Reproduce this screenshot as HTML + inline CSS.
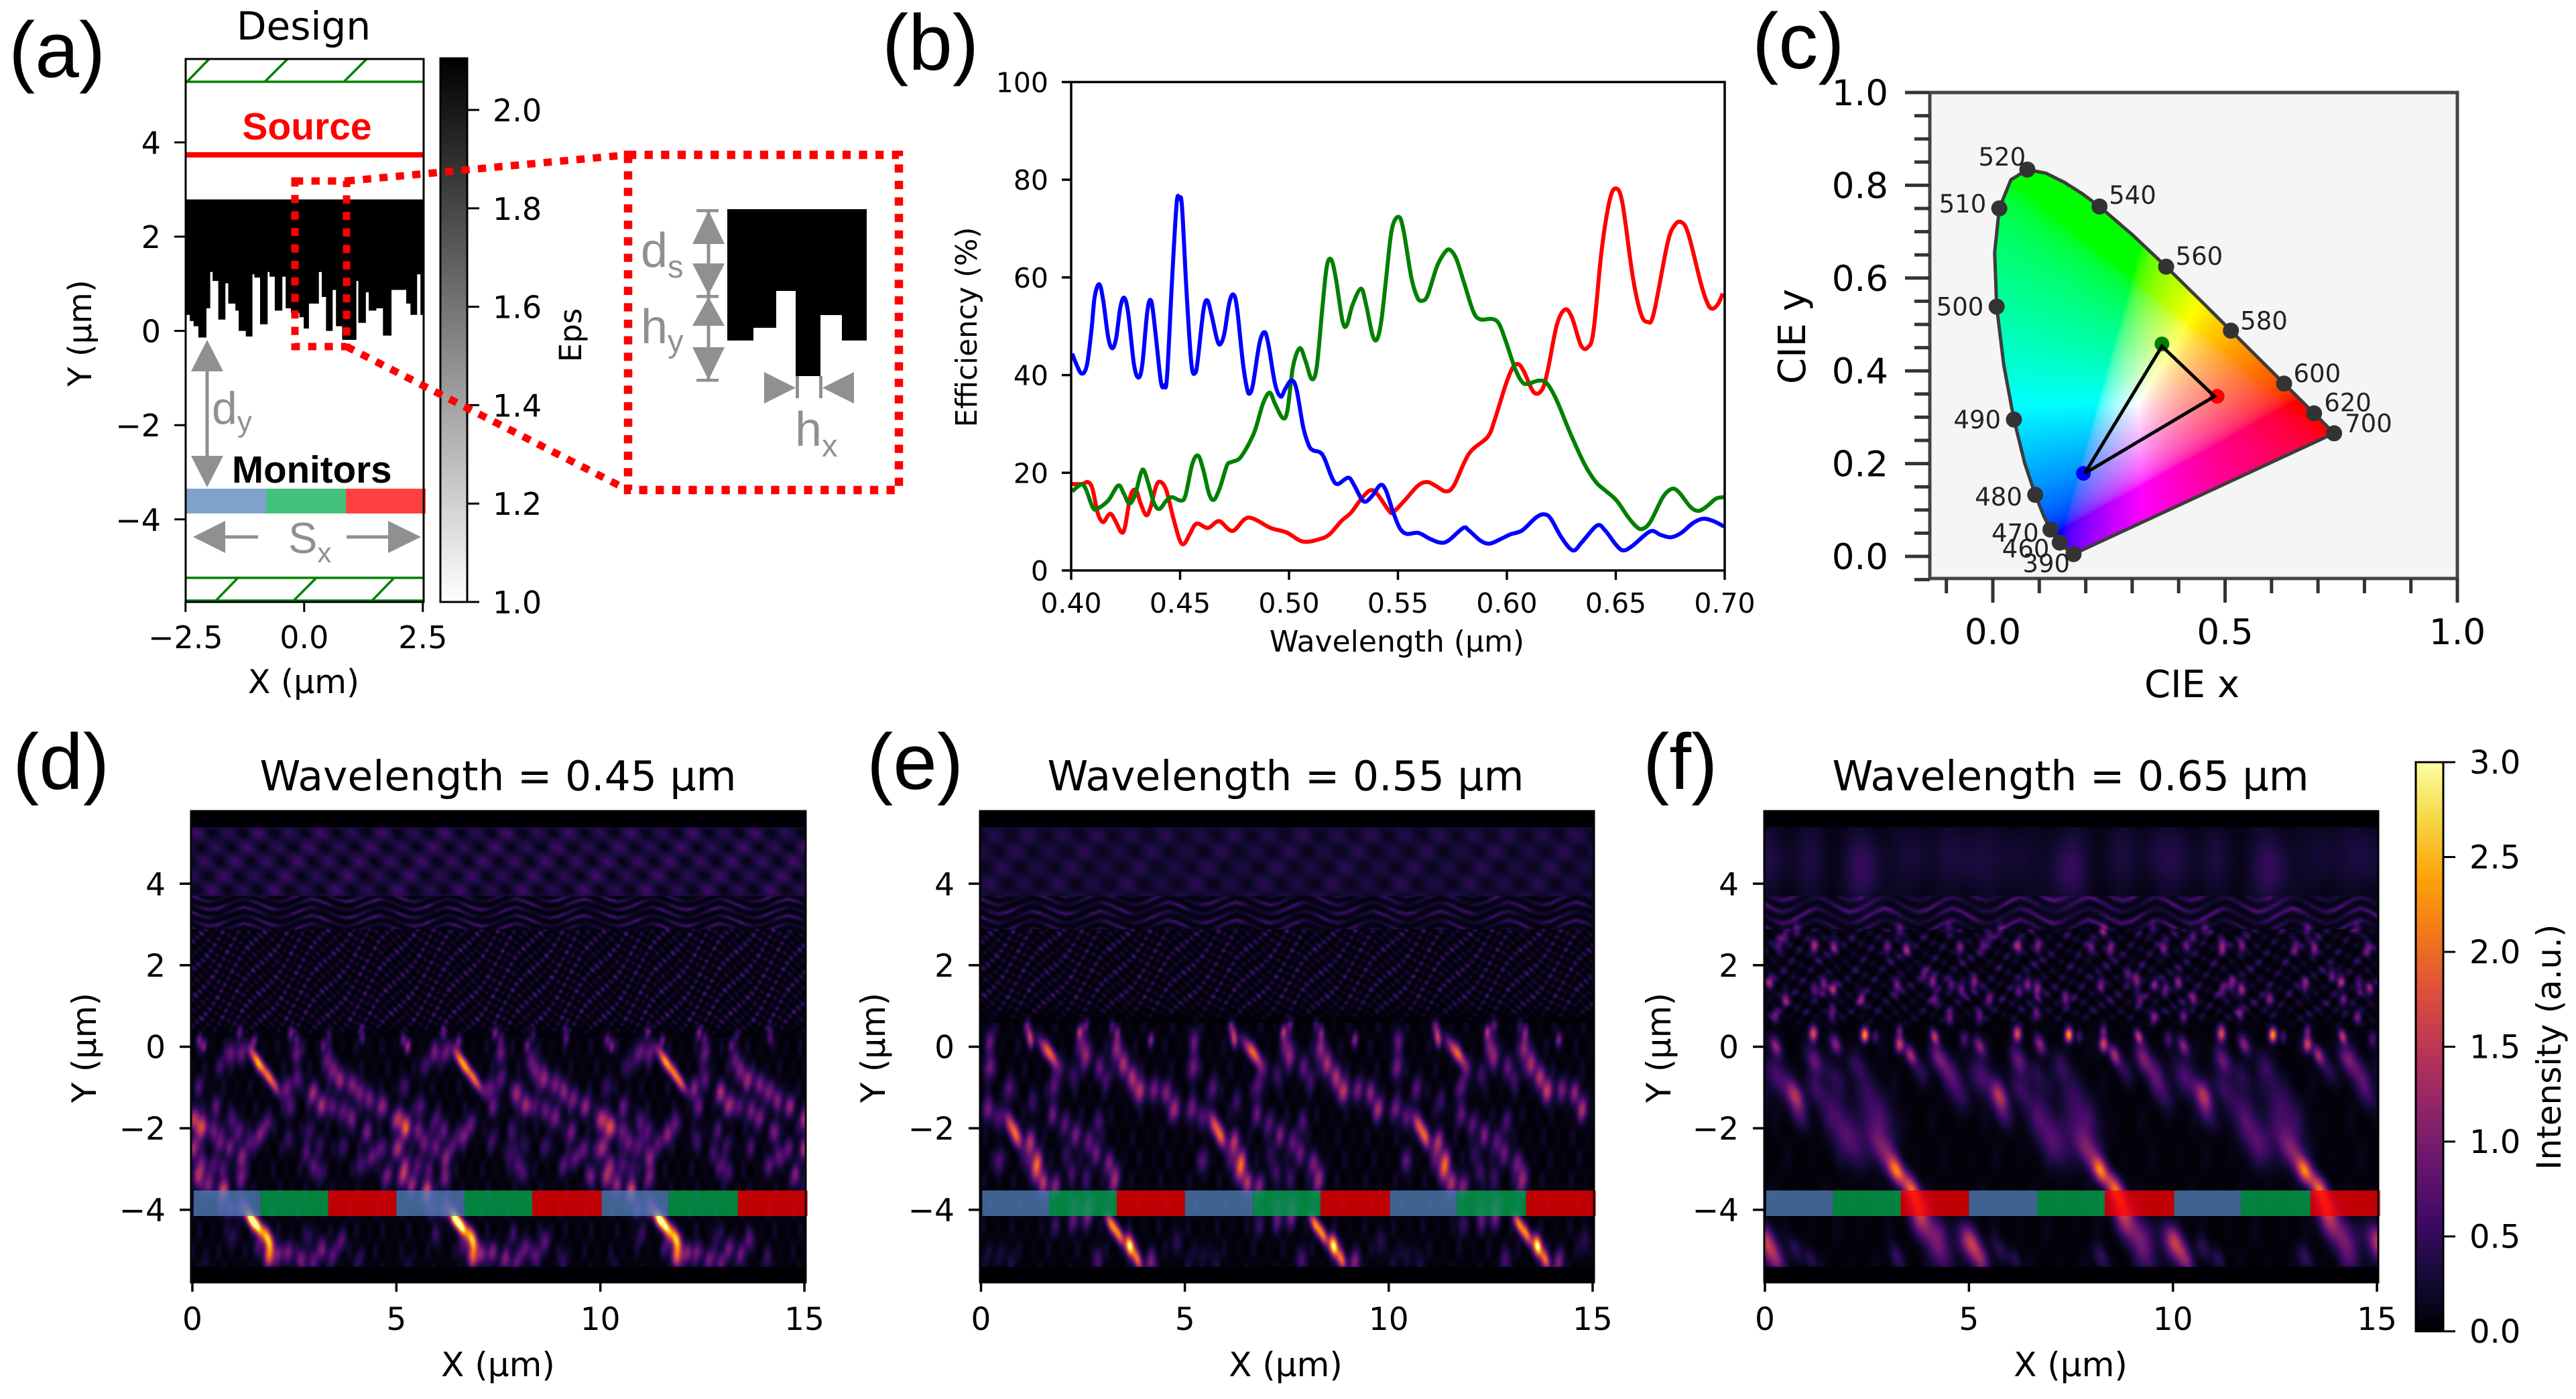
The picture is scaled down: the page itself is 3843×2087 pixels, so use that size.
<!DOCTYPE html>
<html lang="en">
<head>
<meta charset="utf-8">
<title>Metasurface color router figure</title>
<style>
html,body{margin:0;padding:0;background:#fff;}
#figure{position:relative;width:3843px;height:2087px;overflow:hidden;background:#fff;}
canvas{position:absolute;display:block;}
#overlay{position:absolute;left:0;top:0;}
text{font-family:"DejaVu Sans",sans-serif;fill:#000;}
.lib{font-family:"Liberation Sans",sans-serif;}
.anno{font-family:"Liberation Sans",sans-serif;fill:#909090;}
</style>
</head>
<body>
<div id="figure">
<canvas id="cie-canvas" style="left:2879px;top:138px" width="787" height="725"></canvas>
<canvas id="heat-d" style="left:285px;top:1210px" width="917" height="703"></canvas>
<canvas id="heat-e" style="left:1462px;top:1210px" width="916" height="703"></canvas>
<canvas id="heat-f" style="left:2632px;top:1210px" width="916" height="703"></canvas>

<svg id="overlay" width="3843" height="2087" viewBox="0 0 3843 2087" xmlns="http://www.w3.org/2000/svg">
<defs>
<linearGradient id="gray-grad" x1="0" y1="0" x2="0" y2="1"><stop offset="0" stop-color="#000"/><stop offset="1" stop-color="#fff"/></linearGradient>
<linearGradient id="inferno-grad" x1="0" y1="1" x2="0" y2="0"></linearGradient>
<clipPath id="clip-b"><rect x="1598" y="122" width="975" height="729"/></clipPath>
</defs>

<g class="lib" font-size="118">
<text class="lib" x="13" y="115">(a)</text>
<text class="lib" x="1316" y="104">(b)</text>
<text class="lib" x="2614" y="102">(c)</text>
<text class="lib" x="19" y="1177">(d)</text>
<text class="lib" x="1293" y="1177">(e)</text>
<text class="lib" x="2451" y="1177">(f)</text>
</g>

<!-- Panel a -->
<g id="panel-a">
<text x="453" y="59" font-size="58" text-anchor="middle">Design</text>
<g stroke="#008000" stroke-width="3.5" fill="none">
<path d="M277 122H632M279 122L312 88M395 122L429 88M513 122L547 88"/>
<path d="M277 862H632M277 896H632M322 896L355 862M438 896L472 862M555 896L588 862"/>
</g>
<rect x="277" y="227" width="355" height="8" fill="#f00"/>
<text class="lib" x="458" y="208" font-size="57" font-weight="bold" text-anchor="middle" style="fill:#f00">Source</text>
<g id="panel-a-structure"></g>
<text class="lib" x="346" y="720" font-size="56.5" font-weight="bold">Monitors</text>
<g>
<rect x="278" y="729" width="119" height="37" fill="#5483bc" fill-opacity=".75"/>
<rect x="397" y="729" width="119" height="37" fill="#04ad50" fill-opacity=".75"/>
<rect x="516" y="729" width="119" height="37" fill="#ff0000" fill-opacity=".75"/>
</g>
<rect x="277" y="88" width="355" height="810" fill="none" stroke="#000" stroke-width="3"/>
<g id="panel-a-ticks"></g>
<text x="453" y="1034" font-size="49" text-anchor="middle">X (μm)</text>
<text transform="translate(136 497) rotate(-90)" font-size="48" text-anchor="middle">Y (μm)</text>
<rect x="657" y="87" width="40" height="811" fill="url(#gray-grad)" stroke="#000" stroke-width="3"/>
<g id="eps-ticks"></g>
<text transform="translate(867 500) rotate(-90)" font-size="45" text-anchor="middle">Eps</text>

<g fill="#909090">
<rect x="306.5" y="540" width="5" height="150"/>
<path d="M309 507L333 554H285Z"/>
<path d="M309 727L333 680H285Z"/>
<text class="anno" x="316" y="632" font-size="68">d<tspan font-size="44" dy="12">y</tspan></text>
</g>
<g fill="#909090">
<path d="M288 801L336 777V825Z"/>
<rect x="330" y="798.5" width="55" height="5"/>
<path d="M628 801L579 777V825Z"/>
<rect x="517" y="798.5" width="65" height="5"/>
<text class="anno" x="430" y="825" font-size="65">S<tspan font-size="42" dy="14">x</tspan></text>
</g>

<g fill="none" stroke="#f00" stroke-dasharray="12.3 12.3">
<rect x="440" y="270" width="77" height="247" stroke-width="11"/>
<path d="M517 270L937 231" stroke-width="11"/>
<path d="M517 517L937 731" stroke-width="11"/>
<rect x="937" y="231" width="404" height="500" stroke-width="12.5"/>
</g>
<path d="M1085 312H1293V508H1256V470H1224V561H1187V434H1158V489H1124V508H1085Z" fill="#000"/>
<g fill="#909090">
<rect x="1039" y="312" width="33" height="4.5"/>
<rect x="1039" y="440" width="33" height="4.5"/>
<rect x="1039" y="565" width="33" height="4.5"/>
<rect x="1054.5" y="314" width="5" height="252"/>
<path d="M1057 314L1081 364H1033Z"/>
<path d="M1057 440L1081 393H1033Z"/>
<path d="M1057 443L1081 486H1033Z"/>
<path d="M1057 567L1081 518H1033Z"/>
<text class="anno" x="956" y="398" font-size="72">d<tspan font-size="47" dy="16">s</tspan></text>
<text class="anno" x="956" y="512" font-size="72">h<tspan font-size="47" dy="13">y</tspan></text>
<path d="M1187 578.5L1140 555V602Z"/>
<path d="M1227 578.5L1274 555V602Z"/>
<rect x="1187" y="561" width="5" height="33"/>
<rect x="1222" y="561" width="5" height="33"/>
<text class="anno" x="1186" y="665" font-size="72">h<tspan font-size="47" dy="16">x</tspan></text>
</g>
</g>

<!-- Panel b -->
<g id="panel-b">
<g id="panel-b-lines" clip-path="url(#clip-b)"></g>
<rect x="1598" y="122.4" width="975" height="728.6" fill="none" stroke="#000" stroke-width="3.5"/>
<g id="panel-b-ticks"></g>
<text x="2084" y="972" font-size="44" text-anchor="middle">Wavelength (μm)</text>
<text transform="translate(1457 488) rotate(-90)" font-size="43.5" text-anchor="middle">Efficiency (%)</text>
</g>

<!-- Panel c -->
<g id="panel-c">
<g id="panel-c-marks"></g>
<rect x="2879" y="138" width="787" height="725" fill="none" stroke="#444" stroke-width="5"/>
<g id="panel-c-ticks"></g>
<text x="3270" y="1040" font-size="56" text-anchor="middle">CIE x</text>
<text transform="translate(2693 502) rotate(-90)" font-size="56" text-anchor="middle">CIE y</text>
</g>

<!-- Panels d, e, f -->
<g id="panel-heat">
<text x="743" y="1179" font-size="61.5" text-anchor="middle">Wavelength = 0.45 μm</text>
<text x="1918" y="1179" font-size="61.5" text-anchor="middle">Wavelength = 0.55 μm</text>
<text x="3089" y="1179" font-size="61.5" text-anchor="middle">Wavelength = 0.65 μm</text>
<text x="743" y="2053" font-size="50" text-anchor="middle">X (μm)</text>
<text x="1918" y="2053" font-size="50" text-anchor="middle">X (μm)</text>
<text x="3089" y="2053" font-size="50" text-anchor="middle">X (μm)</text>
<text transform="translate(143 1563) rotate(-90)" font-size="49.5" text-anchor="middle">Y (μm)</text>
<text transform="translate(1320 1563) rotate(-90)" font-size="49.5" text-anchor="middle">Y (μm)</text>
<text transform="translate(2492 1563) rotate(-90)" font-size="49.5" text-anchor="middle">Y (μm)</text>
<rect x="3604" y="1137" width="41" height="849" fill="url(#inferno-grad)" stroke="#000" stroke-width="3"/>
<text transform="translate(3820 1562) rotate(-90)" font-size="50" text-anchor="middle">Intensity (a.u.)</text>
<g id="heat-marks"></g>
</g>
</svg>
</div>

<script>
/* ---------- Panel (a) data ---------- */
const toothEdgesUm = [-2.50,-2.41,-2.33,-2.23,-2.06,-1.98,-1.93,-1.81,-1.66,-1.60,-1.45,-1.38,-1.23,-1.09,-1.05,-0.93,-0.77,-0.73,-0.62,-0.46,-0.39,-0.28,-0.10,-0.01,0.10,0.31,0.37,0.46,0.60,0.67,0.80,1.10,1.14,1.30,1.36,1.52,1.66,1.84,2.15,2.24,2.38,2.45,2.50];
const toothBottomsUm = [0.34,0.21,0.10,-0.14,0.48,1.25,1.06,0.24,1.01,0.58,0.43,0.00,-0.12,1.20,1.13,0.14,1.25,1.15,0.43,1.15,0.48,0.38,0.29,0.05,0.58,1.25,0.72,0.00,0.87,0.10,-0.19,1.06,0.17,0.82,0.43,0.48,-0.10,0.87,0.58,0.34,1.20,0.34];
const structureTopUm = 2.79;
const designXTicks = [-2.5,0,2.5];
const designXTickLabels = ['−2.5','0.0','2.5'];
const designYTicks = [4,2,0,-2,-4];
const designYTickLabels = ['4','2','0','−2','−4'];
const epsTicks = [2.0,1.8,1.6,1.4,1.2,1.0];
const epsTickLabels = ['2.0','1.8','1.6','1.4','1.2','1.0'];

/* ---------- Panel (b) data ---------- */
const redWavelengths = [0.4005,0.4051,0.4077,0.4098,0.4123,0.4147,0.4170,0.4185,0.4206,0.4231,0.4247,0.4273,0.4298,0.4319,0.4345,0.4365,0.4391,0.4412,0.4437,0.4468,0.4499,0.4520,0.4545,0.4576,0.4628,0.4679,0.4741,0.4813,0.4916,0.4988,0.5065,0.5147,0.5188,0.5240,0.5286,0.5332,0.5373,0.5404,0.5456,0.5477,0.5530,0.5593,0.5636,0.5678,0.5720,0.5757,0.5826,0.5911,0.5943,0.5996,0.6028,0.6054,0.6080,0.6123,0.6160,0.6186,0.6229,0.6266,0.6298,0.6340,0.6372,0.6398,0.6435,0.6472,0.6501,0.6531,0.6578,0.6615,0.6645,0.6674,0.6737,0.6769,0.6801,0.6833,0.6891,0.6922,0.6944,0.6970,0.6991];
const redEfficiency = [17.7,17.7,18.1,16.7,11.6,9.9,11.3,11.5,9.9,7.8,8.9,15.4,16.4,13.7,11.3,13.0,17.4,18.1,16.4,10.9,6.1,5.5,7.5,9.6,8.7,10.1,8.1,10.8,8.7,7.8,5.9,6.5,7.5,10.1,11.9,14.7,16.4,15.7,12.4,11.9,14.3,17.4,18.1,17.2,16.2,17.4,23.9,27.3,30.7,38.2,41.6,42.2,40.6,36.5,36.9,40.6,50.2,53.4,51.9,46.1,45.7,49.1,65.5,75.8,78.2,75.1,60.1,52.6,50.9,52.6,66.9,70.6,71.3,68.9,58.7,54.6,53.6,54.6,56.7];
const greenWavelengths = [0.4005,0.4046,0.4067,0.4098,0.4118,0.4170,0.4216,0.4242,0.4267,0.4293,0.4319,0.4334,0.4355,0.4381,0.4406,0.4437,0.4463,0.4504,0.4525,0.4556,0.4583,0.4607,0.4633,0.4656,0.4684,0.4715,0.4736,0.4772,0.4808,0.4844,0.4880,0.4911,0.4936,0.4972,0.4993,0.5018,0.5049,0.5075,0.5104,0.5127,0.5152,0.5173,0.5193,0.5214,0.5245,0.5265,0.5291,0.5330,0.5353,0.5384,0.5405,0.5424,0.5445,0.5471,0.5501,0.5524,0.5561,0.5588,0.5609,0.5636,0.5678,0.5710,0.5736,0.5768,0.5805,0.5847,0.5879,0.5932,0.5964,0.5996,0.6038,0.6070,0.6096,0.6149,0.6186,0.6229,0.6292,0.6356,0.6409,0.6451,0.6504,0.6557,0.6594,0.6621,0.6658,0.6716,0.6758,0.6790,0.6843,0.6880,0.6917,0.6960,0.6997];
const greenEfficiency = [16.2,17.6,16.7,13.0,12.6,14.3,17.4,15.7,13.7,15.4,19.8,20.5,17.7,13.7,12.6,14.3,15.0,14.3,15.4,21.8,23.5,20.5,15.7,14.5,17.1,21.5,22.2,22.9,25.3,28.7,34.1,36.4,34.1,31.2,32.8,41.6,45.5,43.0,39.2,41.6,53.2,62.1,63.7,60.1,51.2,50.2,54.3,57.7,54.6,48.1,47.4,51.2,59.4,69.6,72.4,70.0,60.1,56.0,55.2,56.3,62.1,64.8,65.7,63.8,58.7,52.9,51.4,51.5,50.5,46.8,41.3,38.6,38.2,38.9,38.2,34.8,28.0,21.8,18.1,16.4,14.3,10.9,9.0,8.5,9.9,15.0,16.7,16.0,13.0,12.2,13.1,14.7,15.0];
const blueWavelengths = [0.4005,0.4026,0.4049,0.4072,0.4093,0.4108,0.4129,0.4147,0.4170,0.4188,0.4206,0.4226,0.4244,0.4262,0.4288,0.4309,0.4327,0.4350,0.4368,0.4386,0.4412,0.4427,0.4440,0.4463,0.4484,0.4497,0.4509,0.4530,0.4552,0.4569,0.4581,0.4607,0.4625,0.4645,0.4669,0.4684,0.4703,0.4725,0.4744,0.4761,0.4787,0.4806,0.4819,0.4835,0.4864,0.4887,0.4905,0.4936,0.4962,0.4983,0.5011,0.5034,0.5065,0.5091,0.5111,0.5142,0.5163,0.5199,0.5224,0.5271,0.5296,0.5332,0.5353,0.5384,0.5420,0.5445,0.5477,0.5508,0.5540,0.5593,0.5646,0.5694,0.5731,0.5800,0.5826,0.5879,0.5922,0.5975,0.6017,0.6070,0.6133,0.6171,0.6202,0.6250,0.6303,0.6345,0.6414,0.6451,0.6504,0.6536,0.6578,0.6658,0.6705,0.6753,0.6801,0.6854,0.6901,0.6949,0.6997];
const blueEfficiency = [44.4,42.0,40.3,42.0,49.1,56.0,58.6,55.3,47.8,45.5,47.4,53.9,55.8,52.6,42.3,39.5,42.3,53.2,55.1,49.1,38.6,37.9,39.6,59.4,75.1,76.1,74.4,56.7,42.3,40.4,43.0,53.2,55.3,52.2,47.4,46.3,48.5,54.6,56.5,53.9,43.0,37.5,36.2,38.2,46.4,48.8,46.4,38.2,35.6,37.2,38.9,37.2,29.4,25.6,24.6,24.2,22.9,18.8,17.7,19.0,17.7,14.7,14.1,15.4,17.5,16.4,12.1,8.7,7.5,7.7,6.5,5.7,6.1,8.7,8.2,6.1,5.5,6.5,7.4,8.2,10.8,11.5,10.6,6.8,4.1,5.8,9.2,8.2,5.1,4.1,5.1,8.0,7.3,6.8,7.7,9.7,10.6,10.1,9.0];
const effXTicks = [0.40,0.45,0.50,0.55,0.60,0.65,0.70];
const effXTickLabels = ['0.40','0.45','0.50','0.55','0.60','0.65','0.70'];
const effYTicks = [0,20,40,60,80,100];
const effYTickLabels = ['0','20','40','60','80','100'];

/* ---------- Panel (c) data ---------- */
const locusX = [0.1738,0.1714,0.1644,0.1566,0.1440,0.1355,0.1241,0.1096,0.0913,0.0687,0.0454,0.0235,0.0082,0.0039,0.0139,0.0389,0.0743,0.1142,0.1547,0.1929,0.2296,0.3016,0.3731,0.4441,0.5125,0.5752,0.6270,0.6658,0.6915,0.7079,0.7190,0.7347];
const locusY = [0.0049,0.0051,0.0109,0.0177,0.0297,0.0399,0.0578,0.0868,0.1327,0.2007,0.2950,0.4127,0.5384,0.6548,0.7502,0.8120,0.8338,0.8262,0.8059,0.7816,0.7543,0.6923,0.6245,0.5547,0.4866,0.4242,0.3725,0.3340,0.3083,0.2920,0.2809,0.2653];
const locusNm = [390,420,440,450,460,465,470,475,480,485,490,495,500,505,510,515,520,525,530,535,540,550,560,570,580,590,600,610,620,630,640,700];
const labelledNm = [390,460,470,480,490,500,510,520,540,560,580,600,620,700];
const labelNudgeDx = [-76,-86,-88,-90,-90,-90,-90,-73,14,14,14,14,15,16];
const labelNudgeDy = [27,22,18,16,13,13,6,-6,-4,-3,-2,-2,-3,-2];
const primaryX = [0.483,0.364,0.195];
const primaryY = [0.345,0.458,0.179];
const primaryColors = ['#ff0000','#008000','#0000ff'];
const cieXMajor = [0,0.5,1];
const cieXMajorLabels = ['0.0','0.5','1.0'];
const cieXMinor = [-0.1,0.1,0.2,0.3,0.4,0.6,0.7,0.8,0.9];
const cieYMajor = [0,0.2,0.4,0.6,0.8,1];
const cieYMajorLabels = ['0.0','0.2','0.4','0.6','0.8','1.0'];
const cieYMinor = [-0.05,0.05,0.1,0.15,0.25,0.3,0.35,0.45,0.5,0.55,0.65,0.7,0.75,0.85,0.9,0.95];

/* ---------- Panels (d)(e)(f) data: intensity peaks in one 5 um period [X um, Y um, intensity, size, skew] ---------- */
const peaksD = [
[1.42,-4.20,2.9,.9,.3],[1.60,-4.41,2.5,.9,.3],[1.82,-4.64,2.0,.9,.2],[1.86,-5.16,1.6,.95,0],[1.89,-4.86,1.2,.9,0],[1.62,-4.86,.6],[2.09,-5.08,.9],[2.35,-5.05,.9],[2.66,-5.21,.9],[2.95,-5.27,.7],[3.42,-5.13,.7],[3.15,-4.94,.8],[3.64,-4.75,.7],[2.85,-4.64,.4],[4.08,-5.21,.4],[.97,-4.64,.4],[.30,-5.30,.2],[1.20,-3.90,.9],[.90,-3.95,.6],[.74,-3.63,.8],
[1.63,-.42,1.9,.9,.4],[1.48,-.18,1.0,.9,.4],[1.85,-.71,1.5,.9,.4],[2.00,-.94,1.0,.9,.4],[2.94,-1.13,1.2],[3.16,-1.43,1.2],[2.29,-1.02,.8],[2.56,-.78,.7],[2.38,-1.46,.7],[3.89,-.91,.9],[3.61,-.80,1.1],[4.10,-1.11,.9],[4.33,-1.29,.9],[3.29,-.31,.7],[3.42,-.59,.8],[2.55,-.15,.8],[4.63,-1.46,1.1],[4.98,-1.79,.9],[.23,-1.95,1.0],[3.89,-1.74,.9],[4.27,-2.09,.9],[3.40,-1.46,.6],[3.67,-1.57,.7],
[.08,-1.74,.7],[.22,-2.01,.7],[.52,-2.06,.8],[.68,-2.34,.8],[.57,-1.46,.7],[.96,-1.79,.6],[1.15,-2.06,.7],[1.64,-2.17,.9],[1.40,-2.37,.6],[1.83,-1.87,.7],[.93,-2.45,.7],[.08,-2.47,.6],[.22,-2.89,.8],[.14,-3.19,1.1],[.38,-3.38,1.0],[.74,-3.49,1.0],[1.20,-2.72,1.0],[1.19,-3.21,.9],[.52,-2.89,.6],[.77,-3.00,.5],[4.38,-2.72,.7],[4.60,-2.50,.7],[4.98,-2.50,.8],[4.76,-3.16,.9],[2.96,-2.91,.6],[3.12,-3.10,.5],[2.77,-2.61,.5],[2.35,-2.28,.5],[2.85,-2.06,.5],[3.12,-2.39,.4],[3.67,-2.45,.5],[4.11,-2.89,.6],[.16,-.97,.5],[.68,-.48,.5],[1.20,-.15,.8],[.93,-.15,.8],[.27,.02,1.0,.6],[.16,.18,.8,.6],[1.51,.15,.8,.6],[1.15,.36,.8,.6],[2.41,.34,.9,.6],[2.55,.21,.5,.6],[3.20,.04,.7,.6],[3.34,.29,.5,.6],[4.16,.21,.6,.6],[4.13,.43,.5,.6]
];
const peaksE = [
[3.64,-4.88,3.0,.85,.1],[3.83,-5.21,1.9,.85,.2],[3.18,-4.34,2.0,.85,.3],[3.38,-4.61,1.9,.85,.3],[4.16,-5.27,1.0],[2.85,-5.21,.6],[4.79,-4.78,.4],[2.27,-4.25,.6],[1.81,-4.36,.5],[2.60,-4.20,.7],[.44,-5.13,.25],[.11,-5.21,.2],[.74,-5.24,.25],
[.71,-1.90,1.4,1,.2],[.88,-2.20,1.5,1,.2],[1.20,-2.34,1.3],[1.38,-2.78,1.2],[1.34,-3.05,1.2],[1.52,-3.35,1.2],[1.81,-3.43,1.0],[2.33,-2.15,.8],[2.63,-2.34,.7],[2.82,-2.61,.8],[3.12,-2.86,.8],[3.29,-3.16,.8],[3.23,-3.41,.6],[2.57,-3.21,.5],[2.22,-3.05,.5],[.44,-2.80,.7],[2.05,-1.90,.7],[1.75,-1.65,.7],[2.88,-1.85,.6],
[1.72,-.20,1.5,1,.4],[1.53,-.01,.9,1,.4],[1.22,.13,1.0,.6],[1.18,.30,1.1,.6],[1.12,.51,.7,.6],[2.41,.37,1.2,.6],[2.57,-.23,1.0],[2.47,.07,.7],[3.31,-.04,1.1],[3.48,-.42,1.3],[3.70,-.75,1.3],[3.89,-1.08,1.4],[4.24,-1.05,.9],[4.55,-1.13,.9],[4.74,-1.52,1.2],[.16,-1.52,.9],[.20,-.50,.9],[.22,.15,.7],[.68,-1.02,.7],[1.78,-.97,.7],[2.90,-.48,.7],[2.27,-.70,.5],[1.26,-1.35,.5],[4.16,.18,1.0,.6],[3.34,.34,.8,.6],[3.20,.51,.5,.6],[2.57,.54,.6,.6],[3.07,-.80,.5],[1.94,-.53,.4],[.44,-1.74,.6],[1.15,-2.78,.5],[2.08,-2.61,.4],[2.63,-3.87,.7],[2.25,-3.87,.5]
];
const peaksF = [
[3.22,-3.04,1.9,.85],[3.56,-3.44,1.5,.85],[3.75,-3.85,1.3,1],[3.78,-4.30,.8,1.1],[2.93,-2.58,.8,1.2],[2.63,-2.12,.4,1.4],[4.17,-4.63,.8,1.4],[4.33,-5.22,.4,1.2],[4.99,-4.83,.8,1.3],[.32,-5.22,.4,.9],[.27,-5.22,.4,.9],[.05,-4.76,.7,.9],[.74,-4.96,.4,.8],[1.12,-5.22,.4,.7],[3.23,-5.16,.5,.8],
[.74,-1.19,1.2,.9],[.30,-.73,.6,1.3],[.82,-1.65,.5,1],[1.21,-.33,.8,.9],[1.21,-.99,.4,1.0],[1.73,.07,1.0,.6],[1.70,-.73,.35,1.0],[1.64,-1.52,.4,1.6],[1.97,-2.18,.4,1.7],[2.25,-.46,.4,1.0],[2.52,-1.19,.35,1.6],[2.91,-1.78,.35,1.7],[2.19,-2.45,.3,1.5],[3.56,-.20,1.2,.6],[3.81,-.59,.4,.9],[4.25,-.26,.8,.9],[4.55,-.66,.6,1.1],[4.77,-1.19,.4,1.1],[.25,.03,1.0,.6],[1.18,.33,1.7,.5,0],[2.44,.30,2.3,.45,0],[3.29,.07,1.6,.5,0],[3.29,.40,.8,.4,0],[4.15,.26,1.4,.45,.2],[2.70,.25,.6,.4,0],[4.88,.20,.6,.5,0],
[1.20,2.48,1.2,.45,0],[1.68,2.48,.9,.45,0],[.33,2.48,.7,.45,0],[.49,2.71,.6,.45,0],[.77,2.91,.6,.45,0],[.12,1.59,1.0,.45,0],[1.67,1.42,1.1,.45,0],[1.43,1.55,.9,.45,0],[.49,1.18,.9,.45,0],[1.21,1.39,.7,.45,0],[2.36,1.19,.9,.45,0],[3.46,2.41,1.0,.45,0],[2.99,2.45,.8,.45,0],[4.77,2.43,.9,.45,0],[3.23,1.52,.9,.45,0],[4.11,1.62,1.0,.45,0],[4.81,1.42,.8,.45,0],[4.55,1.53,.7,.45,0],[3.89,1.78,.7,.45,0],[1.64,.83,.8,.45,0],[.25,.76,.8,.45,0],[4.52,.73,.9,.45,0],[4.17,1.16,.7,.45,0],[3.29,2.88,.7,.45,0],[4.50,2.94,.5,.45,0],
[2.41,4.40,.4,2.2,0],[1.10,4.60,.2,2,0],[3.70,4.70,.2,2,0],[.20,4.60,.2,2,0],[4.60,4.70,.2,2,0]
];
const dotTile = [[0,.9,0,.6],[.7,0,.8,0],[0,.6,0,1],[.9,0,.6,0]];
const waveTile = [[.1,.2,.1,.1],[1,.8,.5,.7],[.1,.15,.2,.1],[.6,.9,1,.6]];
const patchTile = [[.1,.9,.1,.7],[.8,.1,.9,.1],[.1,.7,.1,.9],[.9,.1,.7,.1]];
const columnTile = [[.5,.1,.6,.1]];
const fringeTile = [[.1,.9,.1,.6],[.6,.1,.9,.1]];
const warpProfile = [0,.7,1.1,.8,.1,-.6,-1.1,-.7];
const bandsD = [
  {lo:-5.4,hi:.25,tile:fringeTile,cw:.16,ch:.5,amp:.28,base:.02,shear:-.1,sharp:true,fade:0},
  {lo:3.7,hi:5.4,tile:patchTile,cw:.38,ch:.35,amp:.58,base:.05,shear:.25,sharp:false,fade:0},
  {lo:2.9,hi:3.7,tile:waveTile,cw:.32,ch:.1,amp:.6,base:.05,shear:0,sharp:true,fade:0,warp:1.2},
  {lo:.25,hi:2.9,tile:dotTile,cw:.13,ch:.13,amp:.75,base:.02,shear:.25,sharp:true,fade:.4,warp:.8}
];
const bandsE = [
  {lo:-5.4,hi:.6,tile:fringeTile,cw:.18,ch:.55,amp:.25,base:.02,shear:-.1,sharp:true,fade:0},
  {lo:3.7,hi:5.4,tile:patchTile,cw:.42,ch:.4,amp:.38,base:.1,shear:.25,sharp:false,fade:0},
  {lo:2.9,hi:3.7,tile:waveTile,cw:.35,ch:.11,amp:.55,base:.06,shear:0,sharp:true,fade:0,warp:1.2},
  {lo:.6,hi:2.9,tile:dotTile,cw:.14,ch:.13,amp:.7,base:.02,shear:.25,sharp:true,fade:.5,warp:.8}
];
const bandsF = [
  {lo:-5.4,hi:.45,tile:fringeTile,cw:.32,ch:.9,amp:.14,base:.02,shear:-.1,sharp:true,fade:0},
  {lo:3.7,hi:5.4,tile:columnTile,cw:.55,ch:2,amp:.18,base:.05,shear:0,sharp:false,fade:0},
  {lo:2.9,hi:3.7,tile:waveTile,cw:.5,ch:.14,amp:.6,base:.08,shear:0,sharp:true,fade:0,warp:1.2},
  {lo:.45,hi:2.9,tile:dotTile,cw:.22,ch:.2,amp:.6,base:.03,shear:.1,sharp:true,fade:.4,warp:.6}
];
const monitorEdgesUm = [.03,1.67,3.33,5.0,6.67,8.33,10.03,11.67,13.37,15.08];
const monitorColors = ['#5483bc','#04ad50','#ff0000'];
const heatXTicks = [0,5,10,15];
const heatXTickLabels = ['0','5','10','15'];
const heatYTicks = [4,2,0,-2,-4];
const heatYTickLabels = ['4','2','0','−2','−4'];
const intensityTicks = [0,0.5,1,1.5,2,2.5,3];
const intensityTickLabels = ['0.0','0.5','1.0','1.5','2.0','2.5','3.0'];
const infernoStops = [[0,0,4],[22,11,57],[66,10,104],[106,23,110],[147,38,103],[188,55,84],[221,81,58],[243,120,25],[252,165,10],[246,215,70],[252,255,164]];

/* ---------- helpers ---------- */
const NS = 'http://www.w3.org/2000/svg';
function mk(tag, name, parent, attrs, txt) {
  const el = document.createElementNS(NS, tag);
  
  
  for (const k in attrs) el.setAttribute(k, attrs[k]);
  if (txt !== undefined) el.textContent = txt;
  parent.appendChild(el);
  return el;
}
function $(id) { return document.getElementById(id); }

/* Panel (a) */
(function () {
  const ax = v => 453.8 + 70.8 * v;
  const ay = v => 493.6 - 70.3 * v;
  const n = toothBottomsUm.length;
  let d = 'M' + ax(toothEdgesUm[0]) + ' ' + ay(structureTopUm) + 'H' + ax(toothEdgesUm[n]);
  for (let i = n - 1; i >= 0; i--) {
    d += 'V' + ay(toothBottomsUm[i]) + 'H' + ax(toothEdgesUm[i]);
  }
  d += 'Z';
  mk('path', 'structure-teeth', $('panel-a-structure'), { d: d, fill: '#000' });
  const t = $('panel-a-ticks');
  designXTicks.forEach((v, i) => {
    mk('line', 'design-x-tick', t, { x1: ax(v), x2: ax(v), y1: 898, y2: 913, stroke: '#000', 'stroke-width': 3 });
    mk('text', 'design-x-tick-label', t, { x: ax(v), y: 967, 'font-size': 46, 'text-anchor': 'middle' }, designXTickLabels[i]);
  });
  designYTicks.forEach((v, i) => {
    mk('line', 'design-y-tick', t, { x1: 260, x2: 277, y1: ay(v), y2: ay(v), stroke: '#000', 'stroke-width': 3 });
    mk('text', 'design-y-tick-label', t, { x: 240, y: ay(v) + 17, 'font-size': 46, 'text-anchor': 'end' }, designYTickLabels[i]);
  });
  const ey = v => 898 - (v - 1) * 734;
  const et = $('eps-ticks');
  epsTicks.forEach((v, i) => {
    mk('line', 'eps-tick', et, { x1: 697, x2: 715, y1: ey(v), y2: ey(v), stroke: '#000', 'stroke-width': 3 });
    mk('text', 'eps-tick-label', et, { x: 735, y: ey(v) + 17, 'font-size': 46 }, epsTickLabels[i]);
  });
})();

/* Panel (b) */
function effX(w) { return 1598 + (w - 0.40) * 3250; }
function effY(v) { return 851 - v * 7.286; }
function smoothPath(xs, ys) {
  const p = xs.map((x, i) => [effX(x), effY(ys[i])]);
  let d = 'M' + p[0][0].toFixed(1) + ' ' + p[0][1].toFixed(1);
  for (let i = 0; i < p.length - 1; i++) {
    const a = p[Math.max(i - 1, 0)], b = p[i], c = p[i + 1], e = p[Math.min(i + 2, p.length - 1)];
    d += 'C' + (b[0] + (c[0] - a[0]) / 6).toFixed(1) + ' ' + (b[1] + (c[1] - a[1]) / 6).toFixed(1) + ' ' +
      (c[0] - (e[0] - b[0]) / 6).toFixed(1) + ' ' + (c[1] - (e[1] - b[1]) / 6).toFixed(1) + ' ' +
      c[0].toFixed(1) + ' ' + c[1].toFixed(1);
  }
  return d;
}
(function () {
  const g = $('panel-b-lines');
  mk('path', 'red-efficiency-line', g, { d: smoothPath(redWavelengths, redEfficiency), fill: 'none', stroke: '#ff0000', 'stroke-width': 6, 'stroke-linejoin': 'round' });
  mk('path', 'green-efficiency-line', g, { d: smoothPath(greenWavelengths, greenEfficiency), fill: 'none', stroke: '#008000', 'stroke-width': 6, 'stroke-linejoin': 'round' });
  mk('path', 'blue-efficiency-line', g, { d: smoothPath(blueWavelengths, blueEfficiency), fill: 'none', stroke: '#0000ff', 'stroke-width': 6, 'stroke-linejoin': 'round' });
  const t = $('panel-b-ticks');
  effXTicks.forEach((v, i) => {
    mk('line', 'efficiency-x-tick', t, { x1: effX(v), x2: effX(v), y1: 851, y2: 865, stroke: '#000', 'stroke-width': 3.5 });
    mk('text', 'efficiency-x-tick-label', t, { x: effX(v), y: 914, 'font-size': 41, 'text-anchor': 'middle' }, effXTickLabels[i]);
  });
  effYTicks.forEach((v, i) => {
    mk('line', 'efficiency-y-tick', t, { x1: 1584, x2: 1598, y1: effY(v), y2: effY(v), stroke: '#000', 'stroke-width': 3.5 });
    mk('text', 'efficiency-y-tick-label', t, { x: 1564, y: effY(v) + 15, 'font-size': 41, 'text-anchor': 'end' }, effYTickLabels[i]);
  });
})();

/* Panel (c) */
function cieX(v) { return 2973 + 693 * v; }
function cieY(v) { return 830 - 692 * v; }
(function () {
  const cv = $('cie-canvas'), ctx = cv.getContext('2d');
  ctx.fillStyle = '#f5f5f5';
  ctx.fillRect(0, 0, cv.width, cv.height);
  const off = document.createElement('canvas');
  off.width = cv.width; off.height = cv.height;
  const oc = off.getContext('2d');
  const img = oc.createImageData(cv.width, cv.height);
  const gam = c => { c = Math.min(1, Math.max(0, c)); return 255 * (c <= 0.0031308 ? 12.92 * c : 1.055 * Math.pow(c, 1 / 2.4) - 0.055); };
  for (let py = 0; py < cv.height; py++) {
    for (let px = 0; px < cv.width; px++) {
      const x = (px + 2879 - 2973) / 693, y = (830 - (py + 138)) / 692;
      if (y <= 0.001) continue;
      const X = x / y, Z = (1 - x - y) / y;
      let r = 3.2406 * X - 1.5372 - 0.4986 * Z;
      let g = -0.9689 * X + 1.8758 + 0.0415 * Z;
      let b = 0.0557 * X - 0.2040 + 1.0570 * Z;
      r = Math.max(r, 0); g = Math.max(g, 0); b = Math.max(b, 0);
      const m = Math.max(r, g, b) || 1;
      const i = (py * cv.width + px) * 4;
      img.data[i] = gam(r / m); img.data[i + 1] = gam(g / m); img.data[i + 2] = gam(b / m); img.data[i + 3] = 255;
    }
  }
  oc.putImageData(img, 0, 0);
  ctx.save();
  ctx.beginPath();
  locusX.forEach((x, i) => {
    const px = cieX(x) - 2879, py = cieY(locusY[i]) - 138;
    if (i) ctx.lineTo(px, py); else ctx.moveTo(px, py);
  });
  ctx.closePath();
  ctx.clip();
  ctx.drawImage(off, 0, 0);
  ctx.restore();

  const g = $('panel-c-marks');
  const pts = locusX.map((x, i) => cieX(x).toFixed(1) + ',' + cieY(locusY[i]).toFixed(1)).join(' ');
  mk('polygon', 'spectral-locus-outline', g, { points: pts, fill: 'none', stroke: '#3c3c3c', 'stroke-width': 5, 'stroke-linejoin': 'round' });
  labelledNm.forEach((nm, i) => {
    const k = locusNm.indexOf(nm);
    const x = cieX(locusX[k]), y = cieY(locusY[k]);
    mk('circle', 'locus-dot-' + nm, g, { cx: x, cy: y, r: 12, fill: '#333' });
    mk('text', 'locus-label-' + nm, g, { x: x + labelNudgeDx[i], y: y + labelNudgeDy[i], 'font-size': 37, style: 'fill:#222' }, String(nm));
  });
  primaryX.forEach((x, i) => {
    mk('circle', 'gamut-primary-dot', g, { cx: cieX(x), cy: cieY(primaryY[i]), r: 11, fill: primaryColors[i] });
  });
  const tri = primaryX.map((x, i) => cieX(x - (i === 0 ? 0.006 : 0) + (i === 2 ? 0.003 : 0)).toFixed(1) + ',' + cieY(primaryY[i] + (i === 1 ? -0.005 : 0)).toFixed(1)).join(' ');
  mk('polygon', 'gamut-triangle', g, { points: tri, fill: 'none', stroke: '#000', 'stroke-width': 5 });

  const t = $('panel-c-ticks');
  cieXMajor.forEach((v, i) => {
    mk('line', 'cie-x-major-tick', t, { x1: cieX(v), x2: cieX(v), y1: 863, y2: 899, stroke: '#333', 'stroke-width': 5 });
    mk('text', 'cie-x-tick-label', t, { x: cieX(v), y: 961, 'font-size': 53, 'text-anchor': 'middle' }, cieXMajorLabels[i]);
  });
  cieXMinor.forEach(v => {
    mk('line', 'cie-x-minor-tick', t, { x1: cieX(v), x2: cieX(v), y1: 863, y2: 885, stroke: '#333', 'stroke-width': 5 });
  });
  cieYMajor.forEach((v, i) => {
    mk('line', 'cie-y-major-tick', t, { x1: 2842, x2: 2879, y1: cieY(v), y2: cieY(v), stroke: '#333', 'stroke-width': 5 });
    mk('text', 'cie-y-tick-label', t, { x: 2817, y: cieY(v) + 19, 'font-size': 53, 'text-anchor': 'end' }, cieYMajorLabels[i]);
  });
  cieYMinor.forEach(v => {
    mk('line', 'cie-y-minor-tick', t, { x1: 2856, x2: 2879, y1: cieY(v), y2: cieY(v), stroke: '#333', 'stroke-width': 5 });
  });
})();

/* Panels (d)(e)(f) */
const infernoLUT = [];
for (let i = 0; i < 256; i++) {
  const f = i / 255 * (infernoStops.length - 1), k = Math.min(Math.floor(f), infernoStops.length - 2), t = f - k;
  infernoLUT.push([0, 1, 2].map(c => infernoStops[k][c] * (1 - t) + infernoStops[k + 1][c] * t));
}
infernoStops.forEach((s, i) => {
  const st = document.createElementNS(NS, 'stop');
  st.setAttribute('offset', i / (infernoStops.length - 1));
  st.setAttribute('stop-color', 'rgb(' + s.join(',') + ')');
  $('inferno-grad').appendChild(st);
});
function sampleTile(tile, u, v) {
  const rows = tile.length, cols = tile[0].length;
  const iu = Math.floor(u), iv = Math.floor(v);
  let fu = u - iu, fv = v - iv;
  fu = fu * fu * (3 - 2 * fu); fv = fv * fv * (3 - 2 * fv);
  const m = (a, n) => ((a % n) + n) % n;
  const a = tile[m(iv, rows)][m(iu, cols)], b = tile[m(iv, rows)][m(iu + 1, cols)];
  const c = tile[m(iv + 1, rows)][m(iu, cols)], d = tile[m(iv + 1, rows)][m(iu + 1, cols)];
  return (a * (1 - fu) + b * fu) * (1 - fv) + (c * (1 - fu) + d * fu) * fv;
}
function warpAt(X) {
  const n = warpProfile.length;
  const f = (((X / 5) % 1 + 1) % 1) * 3 * n;
  const i = Math.floor(f), t = f - i;
  return warpProfile[i % n] * (1 - t) + warpProfile[(i + 1) % n] * t;
}
function renderHeat(id, left, x0, xs, peaks, bands, sx, sy, skew) {
  const cv = $(id), ctx = cv.getContext('2d'), W = cv.width, H = cv.height;
  const I = new Float32Array(W * H);
  const ys = 60.8, y0 = 1561.5 - 1210;
  for (let py = 0; py < H; py++) {
    const Y = (y0 - py) / ys;
    if (Math.abs(Y) > 5.4) continue;
    let band = null;
    for (const b of bands) if (Y >= b.lo && Y < b.hi) band = b;
    for (let px = 0; px < W; px++) {
      let v = 0.02;
      if (band) {
        const X = (px + left - x0) / xs;
        const wv = (Y / band.ch) + (band.warp ? band.warp * warpAt(X) : 0);
        let s = sampleTile(band.tile, X / band.cw + (Y / band.ch) * band.shear, wv);
        if (band.sharp) s = s * s;
        const env = band.fade ? Math.min(1, Math.max(0, (Y - band.lo) / band.fade)) : 1;
        v = band.base + band.amp * s * env;
      }
      I[py * W + px] = v;
    }
  }
  for (let k = -1; k <= 3; k++) {
    for (const p of peaks) {
      const s = p[3] === undefined ? 1 : p[3];
      const sk = p[4] === undefined ? skew : p[4];
      const psx = sx * s, psy = sy * s;
      const cx = (p[0] + 5 * k) * xs + x0 - left, cy = y0 - p[1] * ys;
      const hy = 3.5 * psy * ys, hx = 3.5 * psx * xs + Math.abs(sk) * hy;
      const x1 = Math.max(0, Math.floor(cx - hx)), x2 = Math.min(W - 1, Math.ceil(cx + hx));
      const y1 = Math.max(0, Math.floor(cy - hy)), y2 = Math.min(H - 1, Math.ceil(cy + hy));
      for (let py = y1; py <= y2; py++) {
        const yy = (py - y0) / -ys;
        if (Math.abs(yy) > 5.4) continue;
        const dY = yy - p[1];
        for (let px = x1; px <= x2; px++) {
          const dX = (px + left - x0) / xs - (p[0] + 5 * k) + sk * dY;
          I[py * W + px] += p[2] * Math.exp(-0.5 * (dX * dX / (psx * psx) + dY * dY / (psy * psy)));
        }
      }
    }
  }
  const img = ctx.createImageData(W, H);
  for (let i = 0; i < W * H; i++) {
    const c = infernoLUT[Math.min(255, Math.round(I[i] / 3 * 255))];
    img.data[i * 4] = c[0]; img.data[i * 4 + 1] = c[1]; img.data[i * 4 + 2] = c[2]; img.data[i * 4 + 3] = 255;
  }
  ctx.putImageData(img, 0, 0);
}
renderHeat('heat-d', 285, 287, 60.87, peaksD, bandsD, .09, .19, -.1);
renderHeat('heat-e', 1462, 1463.5, 60.83, peaksE, bandsE, .09, .21, -.08);
renderHeat('heat-f', 2632, 2633, 60.87, peaksF, bandsF, .15, .27, .25);

(function () {
  const g = $('heat-marks');
  const panels = [
    { tag: '045', left: 285, right: 1202, x0: 287, xs: 60.87 },
    { tag: '055', left: 1462, right: 2378, x0: 1463.5, xs: 60.83 },
    { tag: '065', left: 2632, right: 3548, x0: 2633, xs: 60.87 }
  ];
  const hy = v => 1561.5 - 60.8 * v;
  panels.forEach(p => {
    const hx = v => p.x0 + p.xs * v;
    for (let i = 0; i < monitorEdgesUm.length - 1; i++) {
      mk('rect', 'monitor-' + p.tag + '-' + i, g, { x: hx(monitorEdgesUm[i]), y: 1776, width: hx(monitorEdgesUm[i + 1]) - hx(monitorEdgesUm[i]), height: 38, fill: monitorColors[i % 3], 'fill-opacity': .75 });
    }
    mk('rect', 'heatmap-frame-' + p.tag, g, { x: p.left, y: 1210, width: p.right - p.left, height: 703, fill: 'none', stroke: '#000', 'stroke-width': 3 });
    heatXTicks.forEach((v, i) => {
      mk('line', 'heatmap-x-tick', g, { x1: hx(v), x2: hx(v), y1: 1913, y2: 1927, stroke: '#000', 'stroke-width': 3.5 });
      mk('text', 'heatmap-x-tick-label', g, { x: hx(v), y: 1984, 'font-size': 47, 'text-anchor': 'middle' }, heatXTickLabels[i]);
    });
    heatYTicks.forEach((v, i) => {
      mk('line', 'heatmap-y-tick', g, { x1: p.left - 17, x2: p.left, y1: hy(v), y2: hy(v), stroke: '#000', 'stroke-width': 3.5 });
      mk('text', 'heatmap-y-tick-label', g, { x: p.left - 38, y: hy(v) + 17, 'font-size': 47, 'text-anchor': 'end' }, heatYTickLabels[i]);
    });
  });
  const cy = v => 1986 - v * 283;
  intensityTicks.forEach((v, i) => {
    mk('line', 'intensity-tick', g, { x1: 3645, x2: 3663, y1: cy(v), y2: cy(v), stroke: '#000', 'stroke-width': 3 });
    mk('text', 'intensity-tick-label', g, { x: 3684, y: cy(v) + 17, 'font-size': 48 }, intensityTickLabels[i]);
  });
})();
</script>
</body>
</html>
